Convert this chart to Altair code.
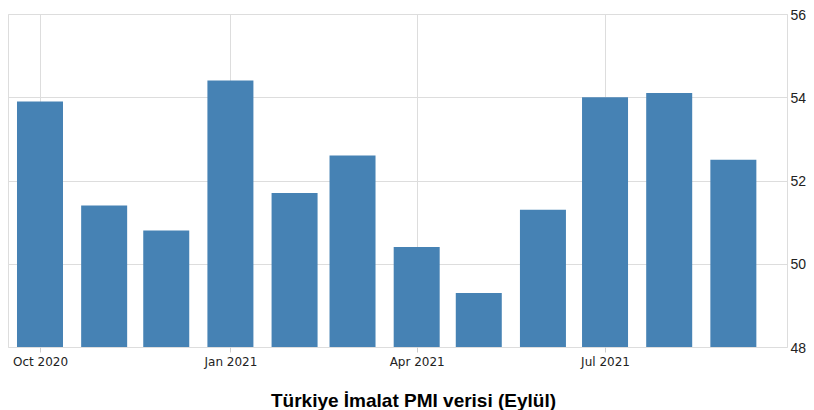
import altair as alt
import pandas as pd

months = ["2020-10-01", "2020-11-01", "2020-12-01", "2021-01-01", "2021-02-01", "2021-03-01",
          "2021-04-01", "2021-05-01", "2021-06-01", "2021-07-01", "2021-08-01", "2021-09-01"]
pmi = [53.9, 51.4, 50.8, 54.4, 51.7, 52.6, 50.4, 49.3, 51.3, 54.0, 54.1, 52.5]
y_ticks = [48, 50, 52, 54, 56]
title_text = "Türkiye İmalat PMI verisi (Eylül)"

df = pd.DataFrame({"month": months, "pmi": pmi})

x_ticks = [alt.DateTime(year=2020, month=10, date=1, utc=True),
           alt.DateTime(year=2021, month=1, date=1, utc=True),
           alt.DateTime(year=2021, month=4, date=1, utc=True),
           alt.DateTime(year=2021, month=7, date=1, utc=True)]

chart = alt.Chart(df).mark_bar(size=46, color="#4682b4").encode(
    x=alt.X("month:T",
            scale=alt.Scale(type="utc", padding=0,
                            domain=[alt.DateTime(year=2020, month=9, date=15, hours=13, utc=True),
                                    alt.DateTime(year=2021, month=9, date=26, hours=22, utc=True)]),
            axis=alt.Axis(values=x_ticks, format="%b %Y", title=None, domain=False,
                          ticks=True, tickSize=5, tickColor="#cccccc",
                          labelPadding=4, labelFont="DejaVu Sans", labelFontSize=12,
                          labelColor="#222222", grid=True, labelFlush=False)),
    y=alt.Y("pmi:Q",
            scale=alt.Scale(domain=[48, 56], nice=False, zero=False),
            axis=alt.Axis(orient="right", values=y_ticks, title=None, domain=False,
                          ticks=False, labelPadding=3, labelOffset=1,
                          labelFont="Liberation Sans", labelFontSize=14,
                          labelColor="#222222", grid=True)),
    y2=alt.datum(48),
).properties(
    width=779,
    height=333,
    autosize=alt.AutoSizeParams(type="none"),
    padding={"left": 0, "top": 6, "right": 19, "bottom": 63},
    title=alt.TitleParams(title_text, orient="bottom", anchor="middle", dx=16, offset=40,
                          font="Liberation Sans", fontSize=19, fontWeight="bold",
                          color="#000000", baseline="alphabetic"),
).configure_axis(
    gridColor="#c8c8c8", gridDash=[1, 1], gridWidth=1
).configure_view(stroke=None).configure(background="white")

chart.save("out.html", embed_options={"renderer": "svg", "actions": False})
